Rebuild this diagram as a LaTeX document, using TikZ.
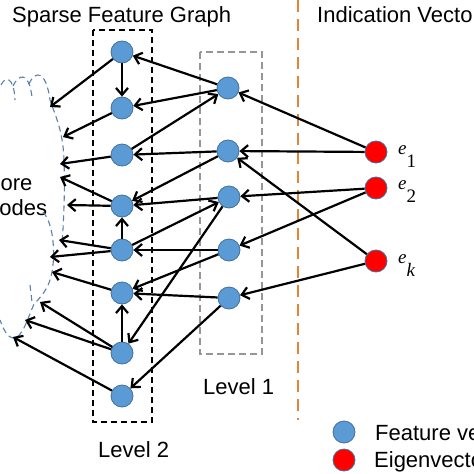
\documentclass[tikz,border=0pt]{standalone}
\usepackage{fontspec}
\setmainfont{Liberation Sans}
\newfontfamily\eqfont{Liberation Serif}
\usetikzlibrary{arrows.meta}
\definecolor{featblue}{RGB}{91,155,213}
\definecolor{featline}{RGB}{65,113,156}
\definecolor{cloudblue}{RGB}{88,128,176}
\definecolor{sepline}{RGB}{228,132,52}
\definecolor{boxgray}{RGB}{150,150,150}
\begin{document}
\begin{tikzpicture}[x=1pt,y=-1pt,
	every node/.style={font=\fontsize{22}{26}\selectfont,inner sep=0pt},
	feat/.style={circle,fill=featblue,draw=featline,line width=0.8pt,minimum size=22pt},
	eig/.style={feat,fill=red},
	arr/.style={-{Straight Barb[length=7pt,width=12pt]},line width=2.2pt},
	cloud/.style={cloudblue,dash pattern=on 6pt off 4pt,line width=1.1pt},
	elabel/.style={anchor=base west,font=\eqfont\fontsize{19}{22}\selectfont}]
	\useasboundingbox (0,0) rectangle (474,474);
	\clip (0,0) rectangle (474,474);
	% titles
	\node[anchor=base west] (title) at (12,22) {Sparse Feature Graph};
	\node[anchor=base west] (ivec) at (317,22) {Indication Vectors};
	\node[anchor=base west] (more) at (-18,190) {More};
	\node[anchor=base west] (nodes) at (-13,215) {nodes};
	% boxes and separator
	\draw[dash pattern=on 6pt off 4pt,line width=1.2pt] (93,30) rectangle (152,422);
	\draw[boxgray,dash pattern=on 7pt off 4pt,line width=1.2pt] (200,52) rectangle (262,354);
	\draw[sepline,dash pattern=on 12pt off 7pt,line width=2pt] (298,0) -- (298,420);
	\node[anchor=base west] (lev2) at (98,457) {Level 2};
	\node[anchor=base west] (lev1) at (203,394) {Level 1};
	% more nodes
	\draw[cloud] (1,85) .. controls (5,76) and (14,76) .. (15,100);
	\draw[cloud] (13,86) .. controls (19,73) and (29,72) .. (32,97);
	\draw[cloud] (29,84) .. controls (35,70) and (46,70) .. (50,100)
		.. controls (55,115) and (63,130) .. (64,160)
		.. controls (65,190) and (64,215) .. (62,245);
	\draw[cloud] (43,212) .. controls (55,225) and (56,262) .. (50,280)
		.. controls (47,290) and (40,298) .. (34,304)
		.. controls (28,318) and (22,338) .. (14,338)
		.. controls (7,338) and (3,328) .. (0,320);
	\draw[cloud] (30,285) -- (32,302);
	% level 2
	\node[feat] (a1) at (122,52) {};
	\node[feat] (a2) at (122,108) {};
	\node[feat] (a3) at (122,155) {};
	\node[feat] (a4) at (122,206) {};
	\node[feat] (a5) at (122,250) {};
	\node[feat] (a6) at (122,293) {};
	\node[feat] (a7) at (122,353) {};
	\node[feat] (a8) at (122,396) {};
	% level 1
	\node[feat] (b1) at (228,88) {};
	\node[feat] (b2) at (228,151) {};
	\node[feat] (b3) at (229,197) {};
	\node[feat] (b4) at (229,250) {};
	\node[feat] (b5) at (229,298) {};
	% indication vectors
	\node[eig] (e1) at (376,152) {};
	\node[eig] (e2) at (376,188) {};
	\node[eig] (ek) at (376,261) {};
	\node[elabel] (l1) at (398,154) {\textit{e}\raisebox{-13pt}{1}};
	\node[elabel] (l2) at (398,189) {\textit{e}\raisebox{-13pt}{2}};
	\node[elabel] (lk) at (398,263) {\textit{e}\raisebox{-13pt}{\textit{k}}};
	% ends in the cloud
	\coordinate (m1) at (50,107);
	\coordinate (m2) at (63,137);
	\coordinate (m3) at (60,164);
	\coordinate (m4) at (60,177);
	\coordinate (m5) at (67,205);
	\coordinate (m6) at (59,240);
	\coordinate (m7) at (50,257);
	\coordinate (m8) at (52,272);
	\coordinate (m9) at (40,302);
	\coordinate (m10) at (25,320);
	\coordinate (m11) at (13,337);
	\path (e1) edge[arr] (b1)
	(e1) edge[arr] (b2)
	(e2) edge[arr] (b3)
	(e2) edge[arr] (b4)
	(ek) edge[arr] (b2)
	(ek) edge[arr] (b5);
	\path (b1) edge[arr] (a1)
	(b1) edge[arr] (a2)
	(a1) edge[arr] (a2)
	(a3) edge[arr] (b1)
	(b2) edge[arr] (a3)
	(b2) edge[arr] (a4)
	(b3) edge[arr] (a4)
	(a5) edge[arr] (a4)
	(a5) edge[arr] (b3)
	(b4) edge[arr] (a5)
	(b4) edge[arr] (a6)
	(b5) edge[arr] (a6)
	(a7) edge[arr] (a6)
	(b3) edge[arr] (a7)
	(b5) edge[arr] (a8);
	\path (a1) edge[arr] (m1)
	(a2) edge[arr] (m2)
	(a3) edge[arr] (m3)
	(a4) edge[arr] (m4)
	(a4) edge[arr] (m5)
	(a5) edge[arr] (m6)
	(a5) edge[arr] (m7)
	(a6) edge[arr] (m8)
	(a7) edge[arr] (m9)
	(a7) edge[arr] (m10)
	(a8) edge[arr] (m11);
	% legend
	\node[feat] (lf) at (344,432) {};
	\node[anchor=base west] (lft) at (375,440) {Feature vector};
	\node[eig] (le) at (344,460) {};
	\node[anchor=base west] (let) at (374,467) {Eigenvector};
\end{tikzpicture}
\end{document}
